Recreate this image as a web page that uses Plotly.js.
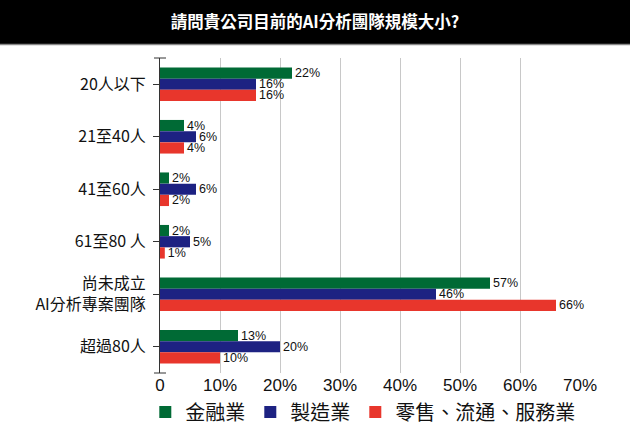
<!DOCTYPE html>
<html><head><meta charset="utf-8">
<script src="https://cdn.plot.ly/plotly-3.0.1.min.js"></script>
<style>html,body{margin:0;padding:0;background:#fff}#chart{width:630px;height:440px}</style>
</head><body><div id="chart"></div>
<script>
const categories = ['20人以下','21至40人','41至60人','61至80 人','尚未成立<br>AI分析專案團隊','超過80人'];
const seriesNames = ['金融業','製造業','零售、流通、服務業'];
const finance = [22, 4, 1.5, 1.5, 55, 13];
const financeLabels = ['22%','4%','2%','2%','57%','13%'];
const manufacturing = [16, 6, 6, 5, 46, 20];
const manufacturingLabels = ['16%','6%','6%','5%','46%','20%'];
const retail = [16, 4, 1.5, 0.8, 66, 10];
const retailLabels = ['16%','4%','2%','1%','66%','10%'];
const xTickVals = [0,10,20,30,40,50,60,70];
const xTickText = ['0','10%','20%','30%','40%','50%','60%','70%'];
const colors = ['#006a35','#1d2282','#e8362c'];

const FONT = 'Liberation Sans, Arial, "Noto Sans CJK TC", sans-serif';
const mk = (name, x, labels, color) => ({
  type:'bar', orientation:'h', name:name, x:x, y:categories,
  text:labels, textposition:'outside', cliponaxis:false, constraintext:'none',
  textfont:{size:12.5, color:'#111', family:FONT},
  marker:{color:color}, hoverinfo:'skip'
});
const data = [
  mk(seriesNames[0], finance, financeLabels, colors[0]),
  mk(seriesNames[1], manufacturing, manufacturingLabels, colors[1]),
  mk(seriesNames[2], retail, retailLabels, colors[2])
];
const W=420, H=315;
const layout = {
  width:630, height:440,
  margin:{l:160, r:50, t:58, b:67, autoexpand:false},
  paper_bgcolor:'#fff', plot_bgcolor:'#fff',
  font:{family:FONT, color:'#111'},
  barmode:'group', bargap:0.36, bargroupgap:0,
  title:{text:'<b>請問貴公司目前的AI分析團隊規模大小?</b>', x:0.5, xanchor:'center', y:1-22/440, yanchor:'middle', yref:'container',
    font:{size:16.5, color:'#fff', family:'"Noto Sans CJK TC", sans-serif'}},
  xaxis:{range:[0,70], tickvals:xTickVals, ticktext:xTickText, showgrid:true, gridcolor:'#c8c8c8', gridwidth:1,
    zeroline:false, showline:false, ticks:'', tickfont:{size:17, color:'#111'}, fixedrange:true, automargin:false},
  yaxis:{autorange:'reversed', showline:true, linecolor:'#333', linewidth:1, ticks:'outside', ticklen:6, tickcolor:'#333',
    tickfont:{size:16, color:'#111', family:'"Noto Sans CJK TC", sans-serif'}, ticklabelstandoff:4, fixedrange:true, automargin:false},
  showlegend:true,
  legend:{orientation:'h', x:-0.035, xanchor:'left', y:-39/H, yanchor:'middle', traceorder:'normal',
    font:{size:20, color:'#111', family:'"Noto Sans CJK TC", sans-serif'}, itemwidth:30, bgcolor:'rgba(0,0,0,0)'},
  shapes:[
    {type:'rect', xref:'paper', yref:'paper', x0:-160/W, x1:1+50/W, y0:1+14/H, y1:1+58/H, fillcolor:'#000', line:{width:0}, layer:'below'},
    {type:'line', xref:'paper', yref:'paper', x0:-160/W, x1:1+50/W, y0:1+13.5/H, y1:1+13.5/H, line:{color:'#888', width:1.5}},
    {type:'line', xref:'paper', yref:'paper', x0:-6/W, x1:6/W, y0:1, y1:1, line:{color:'#333', width:1}},
    {type:'line', xref:'paper', yref:'paper', x0:-6/W, x1:6/W, y0:0, y1:0, line:{color:'#333', width:1}}
  ]
};
Plotly.newPlot('chart', data, layout, {displayModeBar:false, staticPlot:true});
</script></body></html>
